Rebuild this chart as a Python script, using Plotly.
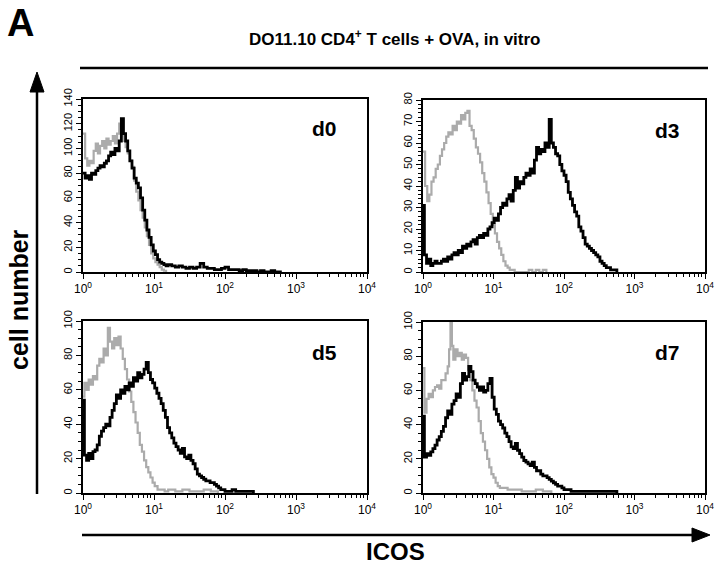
import plotly.graph_objects as go

# ---------------- data (log10 of ICOS intensity, cell count) ----------------
D0_GRAY = [(0.00,112),(0.03,92),(0.06,86),(0.09,90),(0.12,88),(0.15,98),(0.18,104),(0.21,96),(0.24,102),
           (0.27,106),(0.30,100),(0.33,108),(0.36,103),(0.39,106),(0.42,110),(0.45,104),(0.48,112),(0.51,120),
           (0.54,110),(0.57,106),(0.60,101),(0.63,96),(0.66,90),(0.69,85),(0.72,74),(0.75,65),(0.78,58),
           (0.81,50),(0.84,44),(0.87,36),(0.90,29),(0.93,22),(0.96,15),(0.99,11),(1.02,8),(1.05,6),(1.08,4),
           (1.11,2),(1.14,1),(1.17,0)]
D0_BLACK = [(0.00,80),(0.03,76),(0.06,78),(0.09,75),(0.12,80),(0.15,79),(0.18,82),(0.21,84),(0.24,86),
            (0.27,85),(0.30,88),(0.33,90),(0.36,94),(0.39,97),(0.42,95),(0.45,100),(0.48,98),(0.51,106),
            (0.54,124),(0.57,112),(0.60,106),(0.63,98),(0.66,90),(0.69,84),(0.72,76),(0.75,72),(0.78,68),
            (0.81,60),(0.84,50),(0.87,42),(0.90,34),(0.93,28),(0.96,22),(0.99,17),(1.02,14),(1.05,10),
            (1.08,8),(1.11,7),(1.14,6),(1.17,5),(1.20,6),(1.25,5),(1.30,4),(1.35,5),(1.40,4),(1.45,3),
            (1.50,4),(1.55,3),(1.60,4),(1.65,7),(1.70,4),(1.75,3),(1.80,3),(1.85,2),(1.90,2),(1.95,3),
            (2.00,4),(2.05,2),(2.10,2),(2.15,2),(2.20,1),(2.25,2),(2.30,1),(2.35,1),(2.40,1),(2.45,0),
            (2.50,1),(2.55,0),(2.60,0),(2.65,1),(2.70,0),(2.80,0)]

D3_GRAY = [(0.00,56),(0.03,40),(0.06,33),(0.09,36),(0.12,42),(0.15,44),(0.18,48),(0.21,50),(0.24,54),
           (0.27,57),(0.30,60),(0.33,63),(0.36,65),(0.39,64),(0.42,68),(0.45,66),(0.48,70),(0.51,69),
           (0.54,73),(0.57,71),(0.60,74),(0.63,75),(0.66,68),(0.69,66),(0.72,62),(0.75,58),(0.78,55),
           (0.81,51),(0.84,46),(0.87,42),(0.90,37),(0.93,32),(0.96,27),(0.99,22),(1.02,18),(1.05,14),
           (1.08,11),(1.11,8),(1.14,5),(1.17,3),(1.20,2),(1.23,1),(1.26,1),(1.30,0),(1.50,1),(1.55,0),
           (1.60,1),(1.65,0),(1.70,1),(1.75,0)]
D3_BLACK = [(0.00,31),(0.02,8),(0.05,4),(0.08,6),(0.11,3),(0.14,4),(0.17,5),(0.20,4),(0.23,4),(0.26,5),
            (0.29,6),(0.32,5),(0.35,7),(0.38,6),(0.41,8),(0.44,9),(0.47,8),(0.50,10),(0.53,9),(0.56,12),
            (0.59,11),(0.62,13),(0.65,12),(0.68,14),(0.71,15),(0.74,13),(0.77,16),(0.80,17),(0.83,16),
            (0.86,18),(0.89,17),(0.92,20),(0.95,21),(0.98,23),(1.01,25),(1.04,24),(1.07,27),(1.10,30),
            (1.13,32),(1.16,31),(1.19,34),(1.22,36),(1.25,33),(1.28,38),(1.31,44),(1.34,39),(1.37,42),
            (1.40,41),(1.43,44),(1.46,46),(1.49,45),(1.52,48),(1.55,46),(1.58,52),(1.61,58),(1.64,55),
            (1.67,57),(1.70,56),(1.73,60),(1.76,58),(1.79,71),(1.82,60),(1.85,58),(1.88,55),(1.91,54),
            (1.94,50),(1.97,47),(2.00,45),(2.03,42),(2.06,37),(2.09,34),(2.12,31),(2.15,28),(2.18,26),
            (2.21,21),(2.24,19),(2.27,16),(2.30,13),(2.33,12),(2.36,11),(2.39,10),(2.42,9),(2.45,8),
            (2.48,7),(2.51,5),(2.54,4),(2.57,3),(2.60,2),(2.63,2),(2.66,1),(2.70,1),(2.75,0)]

D5_GRAY = [(0.00,56),(0.02,64),(0.05,60),(0.08,66),(0.11,63),(0.14,68),(0.17,66),(0.20,74),(0.23,78),
           (0.26,76),(0.29,84),(0.32,80),(0.35,96),(0.38,88),(0.41,84),(0.44,90),(0.47,86),(0.50,91),
           (0.53,84),(0.56,78),(0.59,72),(0.62,66),(0.65,59),(0.68,53),(0.71,47),(0.74,41),(0.77,35),
           (0.80,28),(0.83,24),(0.86,19),(0.89,15),(0.92,12),(0.95,9),(0.98,6),(1.01,4),(1.05,2),
           (1.10,2),(1.15,1),(1.20,2),(1.30,1),(1.40,2),(1.50,1),(1.60,1),(1.70,2),(1.80,1),(1.90,0)]
D5_BLACK = [(0.00,54),(0.02,22),(0.05,19),(0.08,23),(0.11,20),(0.14,24),(0.17,25),(0.20,28),(0.23,33),
            (0.26,36),(0.29,38),(0.32,40),(0.35,39),(0.38,44),(0.41,48),(0.44,52),(0.47,57),(0.50,55),
            (0.53,60),(0.56,58),(0.59,62),(0.62,60),(0.65,64),(0.68,62),(0.71,67),(0.74,65),(0.77,70),
            (0.80,67),(0.83,69),(0.86,72),(0.89,76),(0.92,70),(0.95,66),(0.98,64),(1.01,61),(1.04,58),
            (1.07,55),(1.10,52),(1.13,48),(1.16,44),(1.19,38),(1.22,35),(1.25,32),(1.28,29),(1.31,27),
            (1.34,25),(1.37,23),(1.40,26),(1.43,21),(1.46,20),(1.49,22),(1.52,19),(1.55,17),(1.58,14),
            (1.61,11),(1.64,10),(1.67,9),(1.70,8),(1.73,7),(1.76,7),(1.79,6),(1.82,6),(1.85,5),(1.88,4),
            (1.91,3),(1.94,2),(1.97,2),(2.00,1),(2.05,1),(2.10,2),(2.15,1),(2.20,1),(2.25,1),(2.30,1),
            (2.35,1),(2.40,0)]

D7_GRAY = [(0.00,73),(0.02,47),(0.05,55),(0.08,58),(0.11,56),(0.14,60),(0.17,62),(0.20,63),(0.23,61),
           (0.26,66),(0.29,66),(0.32,70),(0.35,74),(0.37,84),(0.39,100),(0.41,86),(0.43,78),(0.46,84),
           (0.49,80),(0.52,82),(0.55,78),(0.58,81),(0.61,79),(0.64,72),(0.67,66),(0.70,60),(0.73,54),
           (0.76,50),(0.79,42),(0.82,35),(0.85,30),(0.88,25),(0.91,20),(0.94,15),(0.97,11),(1.00,9),
           (1.03,6),(1.06,4),(1.09,3),(1.15,3),(1.20,2),(1.30,2),(1.40,1),(1.50,1),(1.60,2),(1.70,1),
           (1.78,1),(1.82,0)]
D7_BLACK = [(0.00,45),(0.02,21),(0.05,23),(0.08,22),(0.11,24),(0.14,26),(0.17,28),(0.20,31),(0.23,33),
            (0.26,36),(0.29,39),(0.32,44),(0.35,48),(0.38,46),(0.41,52),(0.44,54),(0.47,58),(0.50,56),
            (0.53,64),(0.56,70),(0.59,66),(0.62,68),(0.65,74),(0.68,71),(0.71,66),(0.74,64),(0.77,62),
            (0.80,60),(0.83,62),(0.86,59),(0.89,60),(0.92,64),(0.95,67),(0.98,56),(1.01,49),(1.04,46),
            (1.07,42),(1.10,40),(1.13,38),(1.16,35),(1.19,33),(1.22,30),(1.25,27),(1.28,26),(1.31,29),
            (1.34,25),(1.37,23),(1.40,21),(1.43,19),(1.46,18),(1.49,17),(1.52,16),(1.55,18),(1.58,15),
            (1.61,13),(1.64,13),(1.67,11),(1.70,10),(1.73,10),(1.76,9),(1.79,8),(1.82,7),(1.85,6),
            (1.88,5),(1.91,4),(1.94,4),(1.97,3),(2.00,2),(2.05,2),(2.10,1),(2.15,1),(2.20,1),(2.30,1),
            (2.40,1),(2.50,1),(2.60,1),(2.70,1),(2.75,0)]

PANEL_LABELS = ["d0", "d3", "d5", "d7"]
Y_MAX = [140, 80, 100, 100]
Y_DTICK = [20, 10, 20, 20]
Y_MINOR = [5, 2, 5, 5]
X_TICKVALS = [1, 10, 100, 1000, 10000]
X_TICKTEXT = ["10<sup>0</sup>", "10<sup>1</sup>", "10<sup>2</sup>", "10<sup>3</sup>", "10<sup>4</sup>"]
TITLE = "DO11.10 CD4<sup>+</sup> T cells + OVA, in vitro"

W, H = 720, 567
def px(x): return x / W
def py(y): return 1 - y / H

FONT = "Liberation Sans, Arial, sans-serif"
GRAY = "#ababab"

panels = [
    (D0_GRAY, D0_BLACK, (83, 367), (99, 272), (324, 129)),
    (D3_GRAY, D3_BLACK, (423, 705), (100, 272), (667, 130)),
    (D5_GRAY, D5_BLACK, (83, 367), (321, 493), (324, 352)),
    (D7_GRAY, D7_BLACK, (423, 705), (322, 493), (667, 352)),
]

fig = go.Figure()
minor_vals = [k * 10 ** d for d in range(4) for k in range(2, 10)]

def label(x, y, text, size, angle=0, anchor="center"):
    fig.add_annotation(x=px(x), y=py(y), xref="paper", yref="paper", xanchor=anchor, yanchor="middle",
                       text=text, showarrow=False, textangle=angle,
                       font=dict(family=FONT, size=size, color="black"))

for i, (g, b, (x0, x1), (yt, yb), (lx, ly)) in enumerate(panels):
    n = "" if i == 0 else str(i + 1)
    for data, col, w in ((g, GRAY, 2.2), (b, "black", 2.8)):
        fig.add_trace(go.Scatter(
            x=[10 ** a for a, _ in data], y=[v for _, v in data],
            mode="lines", line=dict(color=col, width=w, shape="hv"),
            xaxis="x" + n, yaxis="y" + n, showlegend=False, hoverinfo="skip"))
    fig.layout["xaxis" + n] = dict(
        type="log", range=[0, 4], domain=[px(x0), px(x1)], anchor="y" + n,
        tickmode="array", tickvals=X_TICKVALS, ticktext=X_TICKTEXT,
        ticks="outside", ticklen=5, tickwidth=1, tickcolor="black",
        minor=dict(tickmode="array", tickvals=minor_vals, ticks="outside", ticklen=3, tickcolor="black"),
        showline=True, linewidth=2, linecolor="black", mirror=True,
        showgrid=False, zeroline=False, fixedrange=True,
        tickfont=dict(family=FONT, size=12, color="black"))
    fig.layout["yaxis" + n] = dict(
        range=[0, Y_MAX[i]], domain=[py(yb), py(yt)], anchor="x" + n,
        dtick=Y_DTICK[i], tick0=0, tickangle=-90,
        ticks="outside", ticklen=5, tickwidth=1, tickcolor="black",
        minor=dict(dtick=Y_MINOR[i], ticks="outside", ticklen=3, tickcolor="black"),
        showline=True, linewidth=2, linecolor="black", mirror=True,
        showgrid=False, zeroline=False, fixedrange=True,
        tickfont=dict(family=FONT, size=11, color="black"))
    label(lx, ly, "<b>" + PANEL_LABELS[i] + "</b>", 21)

# texts
label(20, 23, "<b>A</b>", 38)
label(395, 38, "<b>" + TITLE + "</b>", 17)
label(19, 300, "<b>cell number</b>", 25, angle=-90)
label(395, 551, "<b>ICOS</b>", 24)

# lines / arrows
shapes = [
    dict(type="line", xref="paper", yref="paper", x0=px(80), x1=px(708), y0=py(68), y1=py(68),
         line=dict(color="black", width=2.5)),
    dict(type="line", xref="paper", yref="paper", x0=px(82), x1=px(695), y0=py(535), y1=py(535),
         line=dict(color="black", width=2.5)),
    dict(type="path", xref="paper", yref="paper",
         path=f"M {px(710)} {py(535)} L {px(692)} {py(528)} L {px(692)} {py(542)} Z",
         fillcolor="black", line=dict(color="black", width=1)),
    dict(type="line", xref="paper", yref="paper", x0=px(37), x1=px(37), y0=py(494), y1=py(88),
         line=dict(color="black", width=2.5)),
    dict(type="path", xref="paper", yref="paper",
         path=f"M {px(37)} {py(72)} L {px(30)} {py(92)} L {px(44)} {py(92)} Z",
         fillcolor="black", line=dict(color="black", width=1)),
]
fig.update_layout(shapes=shapes, width=W, height=H, autosize=False,
                  margin=dict(l=0, r=0, t=0, b=0, autoexpand=False),
                  paper_bgcolor="white", plot_bgcolor="white")

fig.write_html("out.html", config={"displayModeBar": False, "responsive": False},
               post_script="document.body.style.margin='0';document.body.style.overflow='hidden';")
